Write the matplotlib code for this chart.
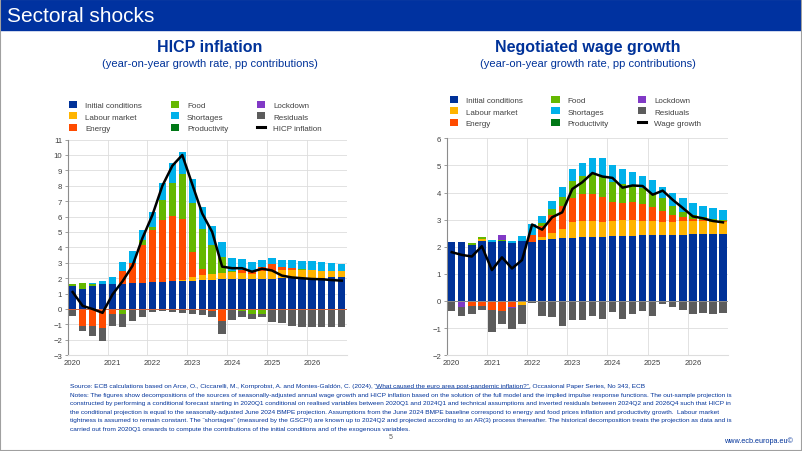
import numpy as np
import matplotlib
matplotlib.use("Agg")
import matplotlib.pyplot as plt
from matplotlib.patches import Rectangle, Patch
from matplotlib.lines import Line2D

plt.rcParams['font.family'] = ['Liberation Sans', 'DejaVu Sans']

# quarters 2020Q1 .. 2026Q4
years = ['2020', '2021', '2022', '2023', '2024', '2025', '2026']

# ---- HICP inflation decomposition (pp) ----
hicp_init = [1.5, 1.3, 1.5, 1.6, 1.65, 1.65, 1.7, 1.72, 1.75, 1.78, 1.8, 1.82, 1.85, 1.88,
             1.9, 1.92, 1.95, 1.96, 1.97, 1.98, 1.98, 2.0, 2.0, 2.02, 2.03, 2.04, 2.05, 2.06]
hicp_labour = [0, 0, 0, 0, 0, 0, 0, 0, 0, 0, 0, 0.08, 0.25, 0.35,
               0.4, 0.43, 0.47, 0.4, 0.33, 0.47, 0.47, 0.55, 0.55, 0.53, 0.52, 0.46, 0.45, 0.44]
hicp_energy = [-0.05, -1.1, -1.1, -1.25, -0.3, 0.85, 1.3, 2.45, 3.35, 3.97, 4.25, 3.95, 1.6, 0.35,
               -0.1, -0.8, -0.05, 0.15, 0.12, 0.3, 0.45, 0.15, 0.1, -0.03, -0.03, -0.03, -0.03, -0.03]
hicp_food = [0.1, 0.4, 0.15, 0, 0, -0.35, 0, 0.3, 0.25, 1.3, 2.1, 2.9, 3.2, 2.6,
             1.85, 1.0, 0.05, -0.12, -0.35, -0.3, 0, 0, 0, 0.05, 0, 0, 0, 0]
hicp_shortages = [0, 0, 0.02, 0.22, 0.4, 0.55, 0.75, 0.68, 0.95, 1.1, 1.3, 1.45, 1.55, 1.45,
                  1.25, 1.0, 0.83, 0.74, 0.61, 0.45, 0.4, 0.45, 0.55, 0.53, 0.55, 0.55, 0.5, 0.45]
hicp_productivity = [0] * 28
hicp_lockdown = [0] * 28
hicp_resid = [-0.4, -0.35, -0.65, -0.8, -0.8, -0.85, -0.75, -0.5, -0.2, -0.1, -0.2, -0.25, -0.35, -0.4,
              -0.45, -0.8, -0.65, -0.43, -0.3, -0.25, -0.84, -0.9, -1.12, -1.12, -1.12, -1.12, -1.11, -1.11]
hicp_total = [1.1, 0.2, 0.0, -0.25, 0.95, 1.8, 2.8, 4.6, 6.1, 8.0, 9.3, 10.0, 8.1, 6.2,
              5.0, 2.75, 2.65, 2.65, 2.42, 2.62, 2.5, 2.17, 2.05, 2.0, 1.95, 1.93, 1.88, 1.84]

# ---- Negotiated wage growth decomposition (pp) ----
wage_init = [2.16, 2.19, 2.07, 2.23, 2.19, 2.2, 2.14, 2.23, 2.19, 2.25, 2.28, 2.31, 2.34, 2.35,
             2.35, 2.37, 2.39, 2.4, 2.41, 2.42, 2.43, 2.44, 2.44, 2.45, 2.46, 2.47, 2.48, 2.48]
wage_labour = [0, 0, 0, 0.06, 0, 0, 0, -0.14, 0, 0.1, 0.22, 0.35, 0.59, 0.61,
               0.6, 0.56, 0.57, 0.59, 0.58, 0.53, 0.51, 0.49, 0.49, 0.51, 0.49, 0.47, 0.45, 0.45]
wage_energy = [0, 0, -0.17, -0.17, -0.32, -0.36, -0.23, 0, 0.25, 0.43, 0.67, 0.86, 0.86, 0.99,
               1.0, 0.9, 0.68, 0.63, 0.65, 0.63, 0.52, 0.4, 0.24, 0.13, 0.08, 0.05, 0.0, 0.03]
wage_food = [0, 0, 0.05, 0.06, 0, 0.06, 0, 0, 0, 0.1, 0.23, 0.31, 0.65, 0.67,
             0.75, 0.77, 0.76, 0.68, 0.62, 0.58, 0.54, 0.46, 0.35, 0.21, 0.14, 0.1, 0.1, 0.04]
wage_shortages = [0, 0, 0, 0, 0.06, 0, 0.07, 0.15, 0.4, 0.26, 0.27, 0.37, 0.41, 0.48,
                  0.58, 0.67, 0.6, 0.57, 0.51, 0.44, 0.48, 0.43, 0.45, 0.49, 0.43, 0.43, 0.4, 0.37]
wage_productivity = [0] * 28
wage_lockdown = [0, -0.23, 0, 0, 0, 0.19, -0.04, 0, 0, 0, 0, 0, 0, 0,
                 0, 0, 0, 0, 0, 0, 0, 0, 0, 0, 0, 0, 0, 0]
wage_resid = [-0.38, -0.31, -0.31, -0.17, -0.81, -0.49, -0.76, -0.71, -0.07, -0.54, -0.6, -0.91, -0.7, -0.69,
              -0.55, -0.66, -0.42, -0.67, -0.48, -0.36, -0.54, -0.11, -0.21, -0.33, -0.48, -0.46, -0.48, -0.46]
wage_total = [1.8, 1.7, 1.64, 2.02, 1.14, 1.61, 1.2, 1.51, 2.82, 2.63, 3.09, 3.27, 4.13, 4.38,
              4.72, 4.59, 4.54, 4.18, 4.26, 4.24, 3.92, 4.07, 3.73, 3.43, 3.12, 3.05, 2.95, 2.9]

labels = ['Initial conditions', 'Labour market', 'Energy', 'Food', 'Shortages',
          'Productivity', 'Lockdown', 'Residuals']
colors = ['#003299', '#FFB400', '#FF4B00', '#65B800', '#00B1EA', '#007816', '#8139C6', '#5C5C5C']

BLUE = '#003299'
TXT = '#404040'
GRID = '#dddddd'


def draw_panel(ax, comps, total, ylim, zero_color):
    x = np.arange(len(total))
    pos = np.zeros(len(x))
    neg = np.zeros(len(x))
    for vals, c in zip(comps, colors):
        v = np.array(vals, dtype=float)
        p = np.where(v > 0, v, 0)
        m = np.where(v < 0, v, 0)
        ax.bar(x, p, bottom=pos, width=0.74, color=c, zorder=3)
        ax.bar(x, m, bottom=neg, width=0.74, color=c, zorder=3)
        pos += p
        neg += m
    ax.plot(x, total, color='black', lw=1.8, zorder=5, solid_joinstyle='round')
    ax.axhline(0, color=zero_color, lw=0.7, zorder=4)
    ax.set_xlim(-0.5, len(x) - 0.5)
    ax.set_ylim(*ylim)
    ax.set_yticks(np.arange(ylim[0], ylim[1] + 1))
    ax.set_xticks(np.arange(0, len(x), 4))
    ax.set_xticklabels(years)
    for b in np.arange(3.5, len(x), 4):
        ax.axvline(b, color=GRID, lw=0.6, zorder=1)
    ax.yaxis.grid(True, color=GRID, lw=0.6, zorder=1)
    ax.set_axisbelow(True)
    for s in ['top', 'right']:
        ax.spines[s].set_visible(False)
    ax.spines['left'].set_color('#8c8c8c')
    ax.spines['left'].set_linewidth(0.8)
    ax.spines['bottom'].set_color(GRID)
    ax.tick_params(axis='y', length=2, width=0.6, color='#8c8c8c', labelsize=5.6,
                   labelcolor=TXT, pad=2)
    ax.tick_params(axis='x', length=0, labelsize=5.6, labelcolor=TXT, pad=3)


W, H = 802, 452
fig = plt.figure(figsize=(W / 100, H / 100), dpi=100)

# header band and frame
fig.patches.append(Rectangle((0, 1 - 31 / H), 1, 31 / H, transform=fig.transFigure,
                             color='#0032A0', zorder=0))
fig.patches.append(Rectangle((0, 0), 1, 1, transform=fig.transFigure, fill=False,
                             edgecolor='#a0a0a0', lw=1.5, zorder=0))
fig.text(7 / W, 1 - 16 / H, 'Sectoral shocks', color='white', fontsize=15, va='center')

ax1 = fig.add_axes([67.7 / W, (H - 356.2) / H, 279 / W, 215.6 / H])
ax2 = fig.add_axes([446.7 / W, (H - 356.2) / H, 281.3 / W, 216.9 / H])

draw_panel(ax1, [hicp_init, hicp_labour, hicp_energy, hicp_food, hicp_shortages,
                 hicp_productivity, hicp_lockdown, hicp_resid], hicp_total, (-3, 11), '#d0643c')
draw_panel(ax2, [wage_init, wage_labour, wage_energy, wage_food, wage_shortages,
                 wage_productivity, wage_lockdown, wage_resid], wage_total, (-2, 6), '#8c8c8c')

# titles
for cx, title in [(210, 'HICP inflation'), (588, 'Negotiated wage growth')]:
    fig.text(cx / W, 1 - 48 / H, title, color=BLUE, fontsize=11.5, fontweight='bold',
             ha='center', va='center')
    fig.text(cx / W, 1 - 64 / H, '(year-on-year growth rate, pp contributions)', color=BLUE,
             fontsize=8, ha='center', va='center')

# legends
def make_handles(line_label):
    hs = [Patch(facecolor=c, edgecolor='none', label=l) for l, c in zip(labels, colors)]
    hs.append(Line2D([], [], color='black', lw=2.2, label=line_label))
    return hs

for (lx, ly), line_label in [((69, 101.5), 'HICP inflation'), ((449.5, 96.5), 'Wage growth')]:
    fig.legend(handles=make_handles(line_label), loc='upper left',
               bbox_to_anchor=(lx / W, 1 - ly / H), ncol=3, frameon=False, fontsize=5.8,
               handlelength=1.0, handleheight=1.0, handletextpad=1.0, columnspacing=3.6,
               labelspacing=0.42, borderpad=0, borderaxespad=0, labelcolor=TXT)

# footnotes
src_a = 'Source: ECB calculations based on Arce, O., Ciccarelli, M., Kornprobst, A. and Montes-Galdón, C. (2024), '
src_b = '\u201cWhat caused the euro area post-pandemic inflation?\u201d'
src_c = ', Occasional Paper Series, No 343, ECB'
notes = [
    'Notes: The figures show decompositions of the sources of seasonally-adjusted annual wage growth and HICP inflation based on the solution of the full model and the implied impulse response functions. The out-sample projection is',
    'constructed by performing a conditional forecast starting in 2020Q1 conditional on realised variables between 2020Q1 and 2024Q1 and technical assumptions and inverted residuals between 2024Q2 and 2026Q4 such that HICP in',
    'the conditional projection is equal to the seasonally-adjusted June 2024 BMPE projection. Assumptions from the June 2024 BMPE baseline correspond to energy and food prices inflation and productivity growth.  Labour market',
    'tightness is assumed to remain constant. The \u201cshortages\u201d (measured by the GSCPI) are known up to 2024Q2 and projected according to an AR(3) process thereafter. The historical decomposition treats the projection as data and is',
    'carried out from 2020Q1 onwards to compute the contributions of the initial conditions and of the exogenous variables.',
]
FS = 4.68
x0 = 70 / W
y0 = 386.5
fig.canvas.draw()
r = fig.canvas.get_renderer()
t = fig.text(x0, 1 - y0 / H, src_a, color=BLUE, fontsize=FS, va='center')
bb = t.get_window_extent(r)
t2 = fig.text(bb.x1 / W, 1 - y0 / H, src_b, color=BLUE, fontsize=FS, va='center')
bb2 = t2.get_window_extent(r)
fig.add_artist(Line2D([bb2.x0 / W, bb2.x1 / W], [(bb2.y0 + 0.5) / H] * 2, color=BLUE, lw=0.4))
fig.text(bb2.x1 / W, 1 - y0 / H, src_c, color=BLUE, fontsize=FS, va='center')
for i, line in enumerate(notes):
    fig.text(x0, 1 - (y0 + 8.6 * (i + 1)) / H, line, color=BLUE, fontsize=FS, va='center')

fig.text(391 / W, 1 - 438 / H, '5', color='#595959', fontsize=5, ha='center', va='center')
fig.text(793 / W, 1 - 441 / H, 'www.ecb.europa.eu\u00a9', color=BLUE, fontsize=5.2,
         ha='right', va='center')

fig.savefig('out.png', dpi=100)
